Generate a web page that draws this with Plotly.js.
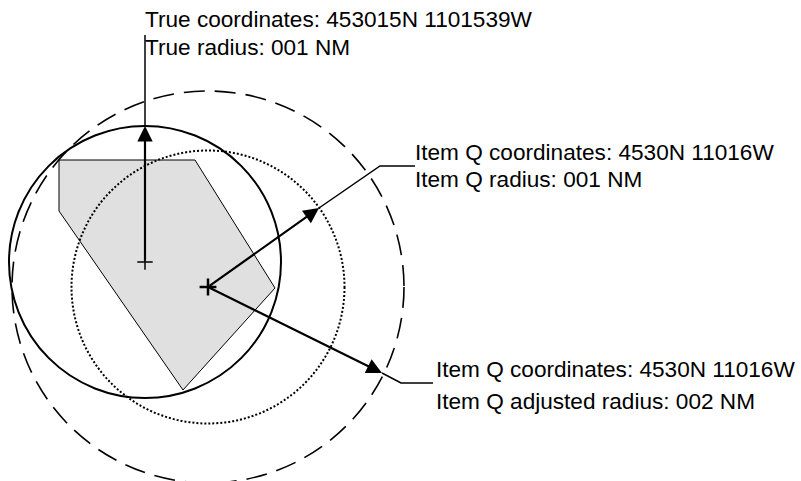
<!DOCTYPE html>
<html>
<head>
<meta charset="utf-8">
<script src="https://cdn.plot.ly/plotly-3.0.1.min.js"></script>
<style>html,body{margin:0;padding:0;background:#fff;}#chart{width:801px;height:481px;}</style>
</head>
<body>
<div id="chart"></div>
<script>
// Circles: true radius (solid), Item Q radius (dotted), Item Q adjusted radius (dashed)
const circleCx = [145, 208, 208];
const circleCy = [262, 287, 287];
const circleR = [136, 136.5, 196];
const circleDash = ['solid', '2px,2px', '21px,10px'];
const circleWidth = [2, 2, 1.6];

// Shaded area polygon
const polyX = [59, 195, 275, 183, 59, 59];
const polyY = [160, 160, 288, 390, 211, 160];

// Centres
const centerX = [145, 208];
const centerY = [262, 287];

// Radius arrows: tail (centre) -> tip (on circle)
const arrowTailX = [145, 208, 208];
const arrowTailY = [262, 287, 287];
const arrowTipX = [145, 319, 382];
const arrowTipY = [126, 208, 373];

// Leader lines from arrow tip to label
const leaders = [
  {x: [145, 145], y: [126, 35]},
  {x: [319, 380, 415], y: [208, 166, 166]},
  {x: [382, 401, 433], y: [373, 383, 383]}
];

// Labels
const labelText = [
  'True coordinates: 453015N 1101539W',
  'True radius: 001 NM',
  'Item Q coordinates: 4530N 11016W',
  'Item Q radius: 001 NM',
  'Item Q coordinates: 4530N 11016W',
  'Item Q adjusted radius: 002 NM'
];
const labelX = [145, 145, 415, 415, 436, 436];
const labelY = [19.5, 47.5, 152, 179.5, 369, 401];

const traces = [];
traces.push({
  x: polyX, y: polyY, type: 'scatter', mode: 'lines', fill: 'toself',
  fillcolor: '#e0e0e0', line: {color: '#000', width: 1}, hoverinfo: 'skip', showlegend: false
});
leaders.forEach(l => traces.push({
  x: l.x, y: l.y, type: 'scatter', mode: 'lines',
  line: {color: '#000', width: 1.5}, hoverinfo: 'skip', showlegend: false
}));
traces.push({
  x: [centerX[0]], y: [centerY[0]], type: 'scatter', mode: 'markers',
  marker: {symbol: 'cross-thin', size: 11, line: {color: '#000', width: 1.5}},
  hoverinfo: 'skip', showlegend: false
});
traces.push({
  x: [centerX[1]], y: [centerY[1]], type: 'scatter', mode: 'markers',
  marker: {symbol: 'cross-thin', size: 12, line: {color: '#000', width: 2.5}},
  hoverinfo: 'skip', showlegend: false
});

const shapes = circleCx.map((cx, i) => ({
  type: 'circle', xref: 'x', yref: 'y', layer: 'above',
  x0: cx - circleR[i], x1: cx + circleR[i],
  y0: circleCy[i] - circleR[i], y1: circleCy[i] + circleR[i],
  line: {color: '#000', width: circleWidth[i], dash: circleDash[i]},
  fillcolor: 'rgba(0,0,0,0)'
}));

const annotations = [];
arrowTipX.forEach((tx, i) => annotations.push({
  x: tx, y: arrowTipY[i], ax: arrowTailX[i], ay: arrowTailY[i],
  xref: 'x', yref: 'y', axref: 'x', ayref: 'y', text: '',
  showarrow: true, arrowhead: 2, arrowsize: 1.4, arrowwidth: 2.2,
  arrowcolor: '#000', standoff: 0, startstandoff: 0
}));
labelText.forEach((t, i) => annotations.push({
  x: labelX[i] - 2, y: labelY[i], xref: 'x', yref: 'y',
  xanchor: 'left', yanchor: 'middle', text: t, showarrow: false,
  font: {family: 'Liberation Sans, Arial, sans-serif', size: 22.6, color: '#000'}
}));

const layout = {
  width: 801, height: 481,
  margin: {l: 0, r: 0, t: 0, b: 0},
  paper_bgcolor: '#fff', plot_bgcolor: '#fff',
  xaxis: {range: [0, 801], visible: false, fixedrange: true},
  yaxis: {range: [481, 0], visible: false, fixedrange: true},
  shapes: shapes,
  annotations: annotations,
  showlegend: false
};

Plotly.newPlot('chart', traces, layout, {displayModeBar: false, staticPlot: true});
</script>
</body>
</html>
